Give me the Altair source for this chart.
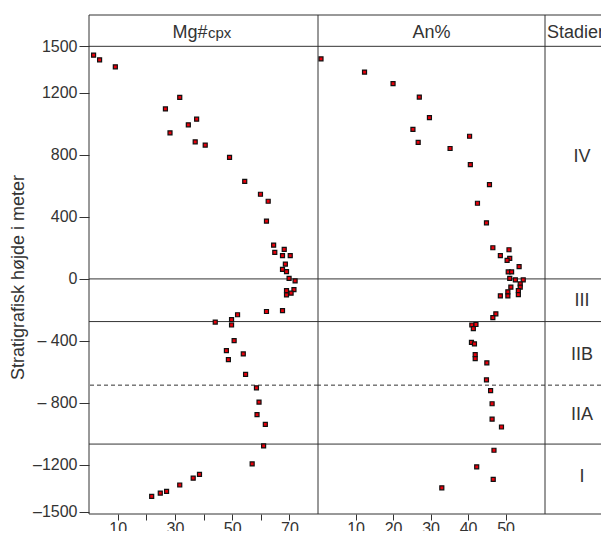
import altair as alt
import pandas as pd

FONT = "Liberation Sans"
INK = "#333333"

# ---- data ----
MG_VALUE = [1.6, 3.7, 9.2, 26.7, 31.7, 28.3, 34.7, 37.6, 37.1, 40.6,
            49.1, 54.4, 59.9, 62.6, 62.0, 64.5, 64.9, 68.2, 67.6, 70.3,
            68.6, 67.6, 69.0, 69.9, 72.0, 71.6, 69.0, 69.0, 70.6, 62.0,
            67.6, 51.9, 49.8, 49.8, 44.1, 50.7, 48.0, 53.9, 48.7, 54.7,
            58.5, 59.4, 58.7, 61.6, 61.0, 57.0, 38.6, 36.4, 31.7, 27.1,
            24.9, 21.9]
MG_HEIGHT = [1443, 1413, 1368, 1096, 1171, 942, 994, 1030, 884, 863,
             784, 629, 546, 501, 373, 218, 171, 191, 150, 150,
             96, 62, 47, 4, -13, -69, -75, -103, -92, -210,
             -204, -231, -263, -297, -278, -398, -462, -484, -520, -615,
             -702, -794, -875, -938, -1077, -1193, -1261, -1285, -1329, -1370,
             -1381, -1402]

AN_VALUE = [0.8, 12.4, 20.0, 27.0, 29.7, 25.3, 40.4, 26.7, 35.2, 40.6,
            45.7, 42.5, 44.9, 46.6, 50.9, 48.6, 51.1, 50.4, 53.6, 50.7,
            51.6, 51.1, 52.6, 54.7, 53.9, 51.4, 53.9, 50.6, 53.4, 53.4,
            50.6, 48.6, 47.4, 46.6, 41.0, 42.1, 41.4, 40.9, 41.7, 41.9,
            41.9, 45.0, 44.9, 46.0, 46.4, 46.4, 48.9, 46.9, 42.3, 46.7,
            33.0]
AN_HEIGHT = [1419, 1334, 1259, 1173, 1040, 965, 920, 880, 841, 737,
             608, 488, 362, 201, 188, 150, 133, 120, 79, 45,
             45, 4, -6, -6, -32, -53, -53, -83, -75, -101,
             -109, -109, -225, -249, -297, -294, -321, -409, -419, -488,
             -514, -541, -651, -721, -805, -904, -955, -1105, -1212, -1293,
             -1347]

Y_DOMAIN = [-1516, 1702]
HEADER_LINE = 1500
SOLID_BOUNDS = [0, -275, -1065]
DASHED_BOUNDS = [-685]
STAGE_NAMES = ["IV", "III", "IIB", "IIA", "I"]
STAGE_MID = [784, -141, -488, -880, -1278]

Y_TICKS = [1500, 1200, 800, 400, 0, -400, -800, -1200, -1500]
Y_LABELS = ["1500", "1200", "800", "400", "0", "\u2013 400", "\u2013 800", "\u20131200", "\u20131500"]
MG_TICKS = [10, 20, 30, 40, 50, 60, 70]
MG_LABELED = [10, 30, 50, 70]
AN_TICKS = [10, 20, 30, 40, 50]

PANEL_TITLES = ["Mg#", "cpx", "An%", "Stadier"]
Y_TITLE = "Stratigrafisk h\u00f8jde i meter"

PANEL_H = 499
MG_W, AN_W, ST_W = 229, 227, 56

# ---- helpers ----
def yscale():
    return alt.Scale(domain=Y_DOMAIN, nice=False, zero=False)

y_label_expr = " : ".join(
    f"datum.value == {v} ? '{l}'" for v, l in zip(Y_TICKS, Y_LABELS)) + " : ''"

main_axis = alt.Axis(values=Y_TICKS, labelExpr=y_label_expr, title=Y_TITLE,
                     titleFontSize=18, titleFontWeight="normal", titleColor=INK,
                     titleFont=FONT, titlePadding=5, titleY=262, labelOverlap=False,
                     tickSize=10, labelPadding=2)

one_row = pd.DataFrame({"k": [0]})


def line_layers(axis, verticals):
    sdf = pd.DataFrame({"h": [Y_DOMAIN[1], HEADER_LINE] + SOLID_BOUNDS + [Y_DOMAIN[0]]})
    solid = alt.Chart(sdf).mark_rule(color=INK, strokeWidth=1).encode(
        y=alt.Y("h:Q", scale=yscale(), axis=axis))
    dashed = alt.Chart(pd.DataFrame({"h": DASHED_BOUNDS})).mark_rule(
        color=INK, strokeWidth=1, strokeDash=[4, 3]).encode(
        y=alt.Y("h:Q", scale=yscale(), axis=axis))
    layers = [solid, dashed]
    for xv in verticals:
        layers.append(alt.Chart(one_row).mark_rule(color=INK, strokeWidth=1).encode(
            x=alt.value(xv), y=alt.value(0), y2=alt.value(PANEL_H)))
    return layers


def head_text(txt, x, align, size=18, clip=False):
    return alt.Chart(pd.DataFrame({"t": [txt]})).mark_text(
        align=align, baseline="alphabetic", fontSize=size, color=INK, font=FONT, clip=clip
    ).encode(text="t:N", x=alt.value(x), y=alt.value(23))


def points(df, field, domain, ticks, label_expr, axis):
    return alt.Chart(df).mark_square(
        size=16, fill="#e8000b", stroke="#111111", strokeWidth=1.2, opacity=1
    ).encode(
        x=alt.X(f"{field}:Q", scale=alt.Scale(domain=domain, nice=False, zero=False),
                axis=alt.Axis(values=ticks, labelExpr=label_expr, title=None,
                              tickSize=6, labelPadding=0)),
        y=alt.Y("h:Q", scale=yscale(), axis=axis),
    )


mg_df = pd.DataFrame({"mg": MG_VALUE, "h": MG_HEIGHT})
an_df = pd.DataFrame({"an": AN_VALUE, "h": AN_HEIGHT})

mg_label_expr = f"indexof({MG_LABELED}, datum.value) >= 0 ? datum.label : ''"

mg_panel = alt.layer(
    *line_layers(main_axis, [0, MG_W]),
    points(mg_df, "mg", [0, 80], MG_TICKS, mg_label_expr, main_axis),
    head_text(PANEL_TITLES[0], 118.5, "right"),
    head_text(PANEL_TITLES[1], 119, "left", size=15),
).properties(width=MG_W, height=PANEL_H)

an_panel = alt.layer(
    *line_layers(None, [AN_W]),
    points(an_df, "an", [0, 60.5], AN_TICKS, "datum.label", None),
    head_text(PANEL_TITLES[2], 113.5, "center"),
).properties(width=AN_W, height=PANEL_H)

stage_df = pd.DataFrame({"name": STAGE_NAMES, "h": STAGE_MID})
stage_text = alt.Chart(stage_df).mark_text(
    align="center", baseline="middle", fontSize=18, color=INK, font=FONT
).encode(x=alt.value(37), y=alt.Y("h:Q", scale=yscale(), axis=None), text="name:N")

st_panel = alt.layer(
    *line_layers(None, []),
    stage_text,
    head_text(PANEL_TITLES[3], 2, "left", clip=True),
).properties(width=ST_W, height=PANEL_H)

chart = alt.hconcat(mg_panel, an_panel, st_panel, spacing=0, bounds="flush").resolve_scale(
    x="independent"
).properties(
    padding={"left": 1, "top": 6, "right": 0, "bottom": -6}
).configure(font=FONT).configure_view(
    stroke="transparent"
).configure_axis(
    domain=False, grid=False, ticks=True, tickColor=INK, tickWidth=1,
    labelColor=INK, labelFont=FONT, labelFontSize=16,
)

chart.save("out.html", embed_options={"renderer": "svg", "actions": False})
